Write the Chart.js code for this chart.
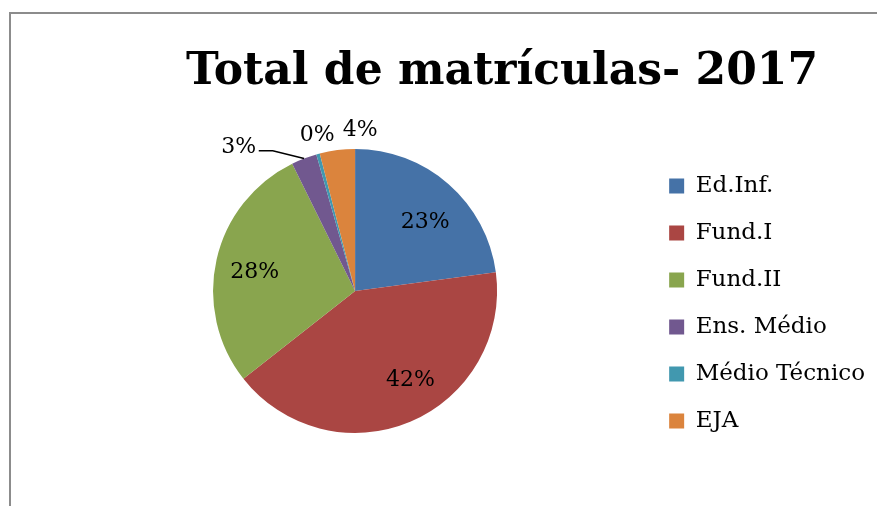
<!DOCTYPE html>
<html>
<head>
<meta charset="utf-8">
<script src="https://cdn.jsdelivr.net/npm/chart.js@4"></script>
<style>
  html, body { margin: 0; padding: 0; background: #fff; }
  #wrap { position: relative; width: 877px; height: 506px; overflow: hidden; }
  #frame { position: absolute; left: 9px; top: 12px; width: 900px; height: 520px;
           border-left: 2px solid #8c8c8c; border-top: 2px solid #8c8c8c; }
  #pizza { position: absolute; left: 0; top: 0; }
</style>
</head>
<body>
<div id="wrap">
  <div id="frame"></div>
  <canvas id="pizza" width="877" height="506"></canvas>
</div>
<script>
const titulo = "Total de matrículas- 2017";
const categorias = ["Ed.Inf.", "Fund.I", "Fund.II", "Ens. Médio", "Médio Técnico", "EJA"];
const percentuais = [22.9, 41.5, 28.3, 2.9, 0.4, 4.0];
const rotulos = ["23%", "42%", "28%", "3%", "0%", "4%"];
const cores = ["#4572a7", "#aa4643", "#89a54e", "#71588f", "#4198af", "#db843d"];

const fonte = "'DejaVu Serif', Georgia, serif";

// where each label goes: [angle nudge (deg), distance as fraction of radius, leader line]
const posRotulo = [
  [4.5, 0.69, false],
  [-9, 0.74, false],
  [-2, 0.72, false],
  [-18, 1.30, true],
  [1.5, 1.13, false],
  [9, 1.13, false],
];

const rotulosPlugin = {
  id: "rotulos",
  afterDatasetsDraw(chart) {
    const ctx = chart.ctx;
    const meta = chart.getDatasetMeta(0);
    ctx.save();
    ctx.font = "22px " + fonte;
    ctx.fillStyle = "#000";
    ctx.textAlign = "center";
    ctx.textBaseline = "middle";
    meta.data.forEach((arc, i) => {
      const p = arc.getProps(["x", "y", "startAngle", "endAngle", "outerRadius"], true);
      const [nudge, fr, leader] = posRotulo[i];
      const mid = (p.startAngle + p.endAngle) / 2 + nudge * Math.PI / 180;
      const tx = p.x + Math.cos(mid) * p.outerRadius * fr;
      const ty = p.y + Math.sin(mid) * p.outerRadius * fr;
      if (leader) {
        const a = (p.startAngle + p.endAngle) / 2;
        const ex = p.x + Math.cos(a) * p.outerRadius;
        const ey = p.y + Math.sin(a) * p.outerRadius;
        ctx.beginPath();
        ctx.strokeStyle = "#000";
        ctx.lineWidth = 1.5;
        ctx.moveTo(tx + 20, ty + 3);
        ctx.lineTo(tx + 34, ty + 3);
        ctx.lineTo(ex, ey);
        ctx.stroke();
      }
      ctx.fillText(rotulos[i], tx, ty);
    });
    ctx.font = "bold 44px " + fonte;
    ctx.textBaseline = "alphabetic";
    ctx.fillText(titulo, 502, 84);
    ctx.restore();
  }
};

new Chart(document.getElementById("pizza"), {
  type: "pie",
  data: {
    labels: categorias,
    datasets: [{
      data: percentuais,
      backgroundColor: cores,
      borderWidth: 0,
      radius: 142,
    }],
  },
  plugins: [rotulosPlugin],
  options: {
    responsive: false,
    animation: false,
    layout: { padding: { top: 100, bottom: 24, left: 65, right: 2 } },
    plugins: {
      tooltip: { enabled: false },
      title: { display: false },
      legend: {
        display: true,
        position: "right",
        title: { display: true, text: " ", font: { size: 10 }, padding: { top: 6, bottom: 7 } },
        labels: {
          font: { family: fonte, size: 23 },
          color: "#000",
          boxWidth: 15,
          boxHeight: 15,
          padding: 24,
        },
      },
    },
  },
});
</script>
</body>
</html>
